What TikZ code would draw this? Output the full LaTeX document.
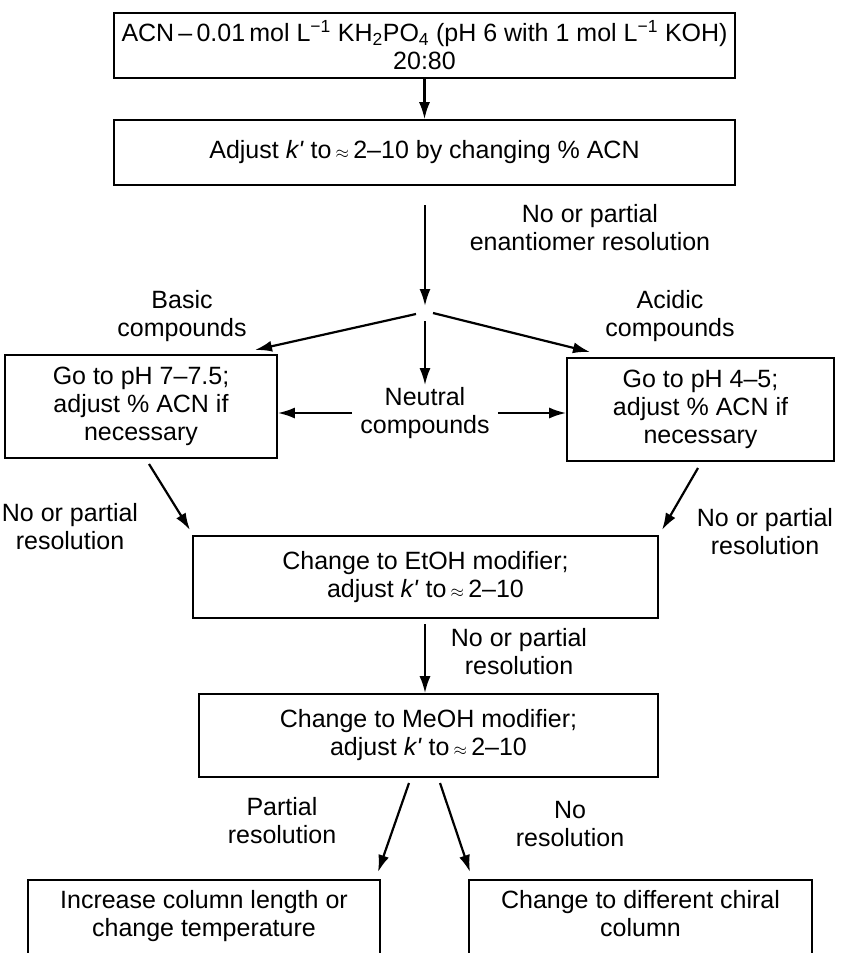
\documentclass[tikz,border=0pt]{standalone}
\usepackage{fontspec}
\setmainfont{Liberation Sans}
\usetikzlibrary{arrows.meta}

\tikzset{
  box/.style={draw, line width=1.6pt, align=center, inner sep=0pt},
  lbl/.style={align=center, inner sep=2pt},
  arr/.style={line width=2.2pt, -{Latex[length=17pt,width=11pt]}},
}
\newcommand{\approxsym}{\,{\fontsize{17}{17}\selectfont$\approx$}\,}
\newcommand{\kprime}{\textit{k\textquotesingle}}
\newcommand{\kapx}{adjust \kprime\ to\approxsym 2--10}

\begin{document}
\begin{tikzpicture}[x=1pt, y=-1pt, font=\fontsize{25}{28}\selectfont]
    \useasboundingbox (0,0) rectangle (841,953);
    \clip (0,0) rectangle (841,953);

    % boxes
    \node[box, minimum width=621, minimum height=65] (start) at (424.5,45.5)
        {ACN\,--\,0.01\,mol L\textsuperscript{−1} KH\textsubscript{2}PO\textsubscript{4} (pH 6 with 1 mol L\textsuperscript{−1} KOH)\\20:80};
    \node[box, minimum width=621, minimum height=65] (adjust) at (424.5,152.5)
        {Adjust \kprime\ to\approxsym 2--10 by changing \% ACN};
    \node[box, minimum width=272, minimum height=103] (basic) at (141,406.5)
        {Go to pH 7--7.5;\\adjust \% ACN if\\necessary};
    \node[box, minimum width=267, minimum height=103] (acidic) at (700.5,409.5)
        {Go to pH 4--5;\\adjust \% ACN if\\necessary};
    \node[box, minimum width=465, minimum height=82] (etoh) at (425.5,577)
        {Change to EtOH modifier;\\\kapx};
    \node[box, minimum width=459, minimum height=83] (meoh) at (428.5,735.5)
        {Change to MeOH modifier;\\\kapx};
    \node[box, anchor=north, minimum width=352, minimum height=110] (column) at (204,879)
        {Increase column length or\\change temperature\\[14pt]};
    \node[box, anchor=north, minimum width=343, minimum height=110] (chiral) at (640.5,879)
        {Change to different chiral\\column\\[14pt]};

    % labels
    \node[lbl] (enan) at (590,228) {No or partial\\enantiomer resolution};
    \node[lbl] (baslbl) at (182,316) {Basic\\compounds};
    \node[lbl] (acilbl) at (670,316) {Acidic\\compounds};
    \node[lbl] (neutral) at (425,413) {Neutral\\compounds};
    \node[lbl] (resleft) at (70,527) {No or partial\\resolution};
    \node[lbl] (resright) at (765,532) {No or partial\\resolution};
    \node[lbl] (resmid) at (519,652) {No or partial\\resolution};
    \node[lbl] (partial) at (282,821) {Partial\\resolution};
    \node[lbl] (nores) at (570,824) {No\\resolution};

    % free ends
    \coordinate (split) at (425,306);
    \coordinate (down) at (425,205);
    \coordinate (bastip) at (255,350);
    \coordinate (acitip) at (590,352);
    \coordinate (lfrom) at (149,464);
    \coordinate (lto) at (190,530);
    \coordinate (rfrom) at (698,468);
    \coordinate (rto) at (662,530);
    \coordinate (mfrom) at (425,624);
    \coordinate (pfrom) at (409,783);
    \coordinate (pto) at (378,872);
    \coordinate (nfrom) at (440,783);
    \coordinate (nto) at (470,872);

    % arrows
    \draw[arr] (start.south) -- (adjust.north);
    \draw[arr] (down) -- (split);
    \draw[arr] ([shift={(-9,8)}]split) -- (bastip);
    \draw[arr] ([shift={(8,7)}]split) -- (acitip);
    \draw[arr] ([yshift=-15pt]split) -- (neutral.north);
    \draw[arr] ([xshift=-6pt]neutral.west) -- (neutral.west -| basic.east);
    \draw[arr] ([xshift=6pt]neutral.east) -- (neutral.east -| acidic.west);
    \draw[arr] (lfrom) -- (lto);
    \draw[arr] (rfrom) -- (rto);
    \draw[arr] (mfrom) -- (mfrom |- meoh.north);
    \draw[arr] (pfrom) -- (pto);
    \draw[arr] (nfrom) -- (nto);
\end{tikzpicture}
\end{document}
